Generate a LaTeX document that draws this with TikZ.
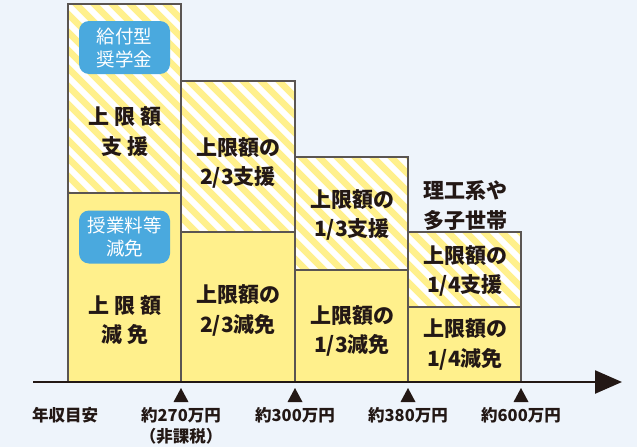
\documentclass[tikz,border=0pt]{standalone}
\usepackage{fontspec}
\setmainfont{Noto Sans CJK JP}
\usetikzlibrary{arrows.meta}
\definecolor{bg}{HTML}{EEF4FB}
\definecolor{yel}{HTML}{FFF08C}
\definecolor{ink}{HTML}{231815}
\definecolor{edge}{HTML}{5A5552}
\definecolor{lblue}{HTML}{4AA9DE}
\newcommand{\stripebox}[4]{%
  \begin{scope}
    \clip (#1,#2) rectangle (#3,#4);
    \fill[white] (#1,#2) rectangle (#3,#4);
    \foreach \c in {-468,-450,...,650} \draw[yel, line width=6.6pt] (\c,0) -- (\c+460,460);
  \end{scope}
}
\newcommand{\yelbox}[4]{\fill[yel] (#1,#2) rectangle (#3,#4);}
\newcommand{\edgebox}[4]{\draw[edge, line width=1.1pt] (#1,#2) rectangle (#3,#4);}
\newcommand{\mkr}[1]{\fill[ink] (#1,388) -- (#1+7.5,402) -- (#1-7.5,402) -- cycle;}
\newcommand{\gp}{\hspace{0.25em}}
\begin{document}
\begin{tikzpicture}[x=1pt,y=-1pt,
  blabel/.style={fill=lblue, rounded corners=10pt, minimum width=91pt, minimum height=53pt,
    text=white, align=center, inner sep=0pt, font=\fontsize{18.5}{23}\selectfont},
  main/.style={text=ink, align=center, inner sep=0pt, font=\bfseries\fontsize{21}{29.5}\selectfont},
  axl/.style={text=ink, align=center, inner sep=0pt, font=\bfseries\fontsize{16.5}{21}\selectfont}]
\fill[bg] (0,0) rectangle (637,447);
\useasboundingbox (0,0) rectangle (637,447);
% striped upper parts
\stripebox{68}{4}{181}{193}
\stripebox{181}{81}{295}{232}
\stripebox{295}{157}{408}{270}
\stripebox{408}{232}{521}{307}
% yellow lower parts
\yelbox{68}{193}{181}{382}
\yelbox{181}{232}{295}{382}
\yelbox{295}{270}{408}{382}
\yelbox{408}{307}{521}{382}
% edges
\edgebox{68}{4}{181}{193}
\edgebox{181}{81}{295}{232}
\edgebox{295}{157}{408}{270}
\edgebox{408}{232}{521}{307}
\edgebox{68}{193}{181}{382}
\edgebox{181}{232}{295}{382}
\edgebox{295}{270}{408}{382}
\edgebox{408}{307}{521}{382}
% labels in boxes
\node[blabel] (b1) at (124.5,47.5) {給付型\\奨学金};
\node[main] (t1) at (125,131.5) {上\gp 限\gp 額\\支\gp 援};
\node[blabel] (b2) at (124.5,237) {授業料等\\減免};
\node[main] (t2) at (125,320) {上\gp 限\gp 額\\減\gp 免};
\node[main] (t3) at (238,163) {上限額の\\2/3支援};
\node[main] (t4) at (238,310.5) {上限額の\\2/3減免};
\node[main] (t5) at (352,215) {上限額の\\1/3支援};
\node[main] (t6) at (352,331) {上限額の\\1/3減免};
\node[main] (t7) at (465,205.5) {理工系や\\多子世帯};
\node[main] (t8) at (465,271) {上限額の\\1/4支援};
\node[main] (t9) at (465,344.5) {上限額の\\1/4減免};
% axis
\coordinate (a0) at (33,382);
\coordinate (a1) at (622,382);
\draw[ink, line width=2.4pt, -{Triangle[length=27pt,width=23pt]}] (a0) -- (a1);
\mkr{181}\mkr{295}\mkr{408}\mkr{521}
\node[axl] (l0) at (65,415.5) {年収目安};
\node[axl] (l1) at (181,426) {約270万円\\（非課税）};
\node[axl] (l2) at (295,415.5) {約300万円};
\node[axl] (l3) at (408,415.5) {約380万円};
\node[axl] (l4) at (521,415.5) {約600万円};
\end{tikzpicture}
\end{document}
